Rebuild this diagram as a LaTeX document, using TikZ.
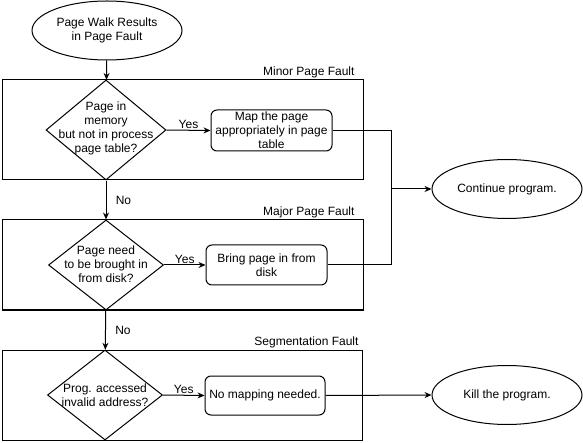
\documentclass[tikz,border=0pt]{standalone}
\usepackage{fontspec}
\setmainfont{Liberation Sans}
\usetikzlibrary{shapes.geometric, positioning, arrows.meta}

\tikzset{
  term/.style={draw, ellipse, minimum width=150, minimum height=59, inner sep=0, align=center},
  decision/.style={draw, diamond, inner sep=0},
  stepbox/.style={draw, rounded corners=6, inner sep=0, align=center},
  group/.style={draw, inner sep=0},
  flow/.style={-{Stealth[length=7,width=6]}},
}

\begin{document}
\begin{tikzpicture}[x=1pt, y=-1pt, line width=1pt,
    every node/.style={font=\fontsize{12}{13.8}\selectfont}]
  \useasboundingbox (0,0) rectangle (583,443);

  % fault groups
  \node[group, minimum width=361, minimum height=100] (minor) at (182.5,130) {};
  \node[group, minimum width=361, minimum height=90] (major) at (182.5,265) {};
  \node[group, minimum width=360, minimum height=90] (seg) at (182,395) {};
  \node[above left=0 and 7 of minor.north east, inner sep=1.5] (minorlbl) {Minor Page Fault};
  \node[above left=0 and 7 of major.north east, inner sep=1.5] (majorlbl) {Major Page Fault};
  \node[above left=0 and 2 of seg.north east, inner sep=1.5] (seglbl) {Segmentation Fault};

  % terminals
  \node[term] (start) at (107,30.5) {Page Walk Results\\in Page Fault};
  \node[term] (cont) at (507,189) {Continue program.};
  \node[term] (kill) at (507,395) {Kill the program.};

  % decisions
  \node[decision, minimum width=120, minimum height=100] (q1) at (106,130) {};
  \node[align=center, inner sep=0] (q1txt) at (106,128.5)
    {Page in\\memory\\but not in process\\page table?};
  \node[decision, minimum width=115, minimum height=90] (q2) at (106,265) {};
  \node[align=center, inner sep=0] (q2txt) at (106,264)
    {Page need\\to be brought in\\from disk?};
  \node[decision, minimum width=115, minimum height=90] (q3) at (105,395) {};
  \node[align=center, inner sep=0] (q3txt) at (105,395)
    {Prog. accessed\\invalid address?};

  % actions
  \node[stepbox, minimum width=121, minimum height=41] (map) at (271.5,130.5)
    {Map the page\\appropriately in page\\table};
  \node[stepbox, minimum width=121, minimum height=40] (bring) at (266.5,265)
    {Bring page in from\\disk};
  \node[stepbox, minimum width=120, minimum height=39] (nomap) at (265,395.5)
    {No mapping needed.};

  % connectors
  \draw[flow] (start) -- (q1);
  \draw[flow] (q1) -- node[right=6] (no1) {No} (q2);
  \draw[flow] (q2) -- node[right=6] (no2) {No} (q3);
  \draw[flow] (q1.east) -- node[above=2] (yes1) {Yes} (map.west);
  \draw[flow] (q2.east) -- node[above=2] (yes2) {Yes} (bring.west);
  \draw[flow] (q3.east) -- node[above=2] (yes3) {Yes} (nomap.west);
  \coordinate (join) at (391,189);
  \draw (map.east) -| (join);
  \draw (bring.east) -| (join);
  \draw[flow] (join) -- (cont.west);
  \draw[flow] (nomap.east) -- (kill.west);
\end{tikzpicture}
\end{document}
